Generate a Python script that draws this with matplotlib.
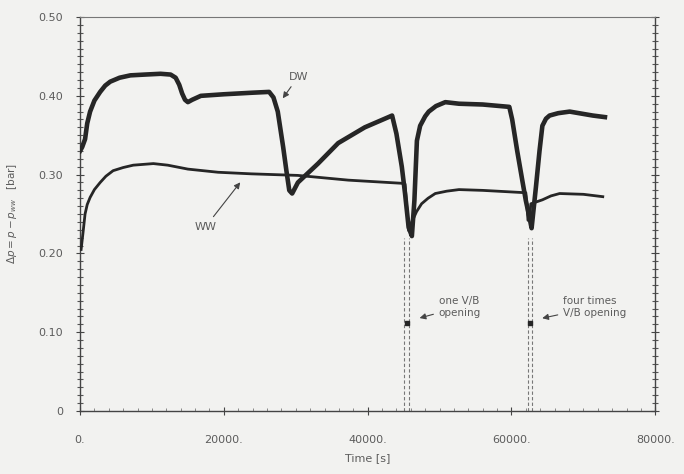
import matplotlib

matplotlib.use("Agg")
import matplotlib.pyplot as plt
from matplotlib.ticker import MultipleLocator, FixedLocator

# DW curve: time [s], pressure difference [bar]
DW_T = [0, 300, 700, 1000, 1400, 2000, 2800, 3500, 4200, 5500, 7000, 9000,
        11200, 12600, 13300, 13800, 14200, 14600, 15000, 15600, 16800, 20000,
        24000, 26300, 26900, 27500, 28250, 28700, 29100, 29500, 30300, 33100,
        35900, 39600, 42900, 43400, 44000, 44750, 45200, 45700, 46150, 46500,
        46850, 47300, 48000, 48500, 49500, 50800, 52700, 56000, 59700, 60100,
        60800, 61500, 62000, 62500, 62800, 63400, 63900, 64300, 64800, 65300,
        66500, 68100, 71300, 73000]
DW_P = [0.33, 0.335, 0.345, 0.365, 0.38, 0.394, 0.405, 0.413, 0.418, 0.423,
        0.426, 0.427, 0.428, 0.427, 0.423, 0.414, 0.403, 0.395, 0.392, 0.395,
        0.400, 0.402, 0.404, 0.405, 0.398, 0.38, 0.335, 0.305, 0.28, 0.276,
        0.29, 0.314, 0.34, 0.36, 0.373, 0.375, 0.352, 0.31, 0.276, 0.233,
        0.222, 0.267, 0.343, 0.362, 0.374, 0.38, 0.387, 0.392, 0.390, 0.389,
        0.386, 0.37, 0.33, 0.293, 0.267, 0.246, 0.232, 0.284, 0.33, 0.362,
        0.371, 0.375, 0.378, 0.38, 0.375, 0.373]

# WW curve
WW_T = [150, 400, 700, 1000, 1400, 2000, 2800, 3600, 4600, 6000, 7400, 10200,
        12200, 15000, 19200, 23800, 30300, 37300, 44750, 45200, 45450, 45700,
        46150, 46800, 47500, 48400, 49400, 51000, 52700, 56000, 62000, 62300,
        62500, 62700, 64300, 65500, 66700, 70000, 72700]
WW_P = [0.205, 0.225, 0.25, 0.262, 0.271, 0.281, 0.29, 0.298, 0.305, 0.309,
        0.312, 0.314, 0.312, 0.307, 0.303, 0.301, 0.299, 0.293, 0.289, 0.288,
        0.258, 0.229, 0.24, 0.253, 0.263, 0.27, 0.276, 0.279, 0.281, 0.28,
        0.277, 0.242, 0.245, 0.263, 0.268, 0.273, 0.276, 0.275, 0.272]

# valve/breaker openings (dashed markers) and their dots
VB_LINES = [45100, 45750, 62250, 62900]
VB_DOTS_T = [45450, 62600]
VB_DOT_P = 0.112

Y_TICKS = [0, 0.1, 0.2, 0.3, 0.4, 0.5]
Y_LABELS = ["0", "0.10", "0.20", "0.30", "0.40", "0.50"]
X_TICKS = [0, 20000, 40000, 60000, 80000]
X_LABELS = ["0.", "20000.", "40000.", "60000.", "80000."]

BG = "#f2f2f0"
INK = "#262626"
TXT = "#5c5c5c"

fig = plt.figure(figsize=(6.84, 4.74), dpi=100)
fig.patch.set_facecolor(BG)
ax = fig.add_axes([0.117, 0.133, 0.841, 0.831])
ax.set_facecolor(BG)

ax.plot(DW_T, DW_P, color=INK, lw=3.3, solid_joinstyle="round", zorder=3)
ax.plot(WW_T, WW_P, color=INK, lw=2.0, solid_joinstyle="round", zorder=3)

ax.vlines(VB_LINES, 0, 0.22, colors="#777777", lw=0.8, linestyles=(0, (3, 2)), zorder=2)
ax.plot(VB_DOTS_T, [VB_DOT_P] * len(VB_DOTS_T), "s", color=INK, ms=3.5, zorder=4)

arrow = dict(arrowstyle="-|>", color="#444444", lw=0.8, mutation_scale=9)
ax.annotate("DW", xy=(27970, 0.394), xytext=(29000, 0.418), fontsize=8,
            color=TXT, va="bottom", ha="left", arrowprops=arrow)
ax.annotate("WW", xy=(22520, 0.293), xytext=(19000, 0.234), fontsize=8,
            color=TXT, va="center", ha="right", arrowprops=arrow)
ax.annotate("one V/B\nopening", xy=(46850, 0.117), xytext=(49900, 0.132),
            fontsize=7.5, color=TXT, va="center", ha="left", linespacing=1.2,
            arrowprops=arrow)
ax.annotate("four times\nV/B opening", xy=(63900, 0.117), xytext=(67200, 0.132),
            fontsize=7.5, color=TXT, va="center", ha="left", linespacing=1.2,
            arrowprops=arrow)

ax.set_xlim(0, 80000)
ax.set_ylim(0, 0.5)
ax.xaxis.set_major_locator(FixedLocator(X_TICKS))
ax.set_xticklabels(X_LABELS)
ax.yaxis.set_major_locator(FixedLocator(Y_TICKS))
ax.set_yticklabels(Y_LABELS)
ax.yaxis.set_minor_locator(MultipleLocator(0.01))
ax.xaxis.set_minor_locator(MultipleLocator(2000))

ax.tick_params(axis="both", which="major", direction="inout", length=6, width=0.8,
               color="#444444", labelcolor=TXT, labelsize=8)
ax.tick_params(axis="y", which="major", pad=9, right=True)
ax.tick_params(axis="x", which="major", pad=14)
ax.tick_params(axis="y", which="minor", direction="inout", length=4, width=0.8,
               color="#555555", right=True)
ax.tick_params(axis="x", which="minor", direction="in", length=2, width=0.6,
               color="#777777")

for s in ax.spines.values():
    s.set_color("#444444")
    s.set_linewidth(1.0)
ax.spines["top"].set_color("#777777")
ax.spines["top"].set_linewidth(0.8)

ax.set_xlabel("Time [s]", fontsize=8, color=TXT, labelpad=6)
ax.set_ylabel(r"$\Delta p = p - p_{ww}$   [bar]", fontsize=7.5, color=TXT, labelpad=14)

fig.savefig("out.png", facecolor=BG)
